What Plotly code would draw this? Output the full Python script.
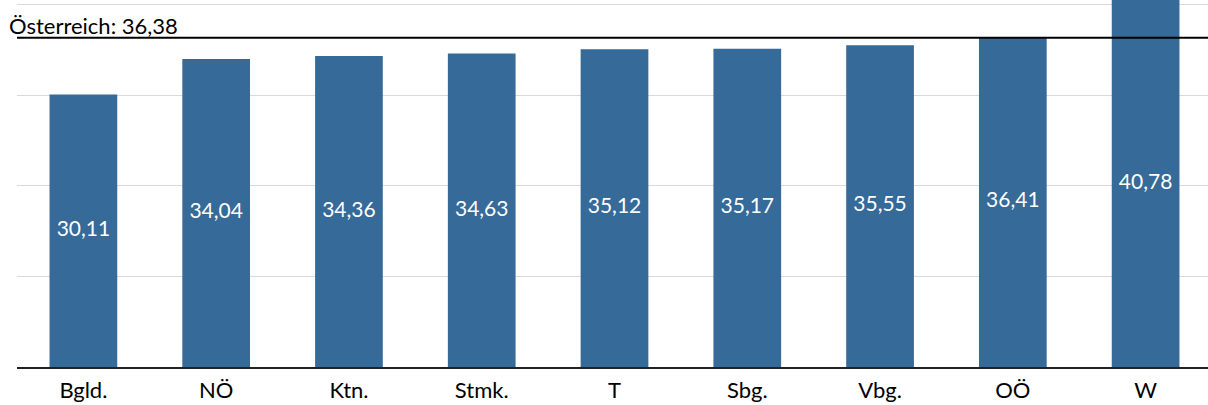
import plotly.graph_objects as go

categories = ["Bgld.", "NÖ", "Ktn.", "Stmk.", "T", "Sbg.", "Vbg.", "OÖ", "W"]
values = [30.11, 34.04, 34.36, 34.63, 35.12, 35.17, 35.55, 36.41, 40.78]
austria_value = 36.38
austria_label = "Österreich: 36,38"
y_max = 40.55

FONT = "Lato"
BAR_COLOR = "#366A98"

def fmt(v):
    return f"{v:.2f}".replace(".", ",")

fig = go.Figure()
fig.add_trace(go.Bar(
    x=categories, y=values, marker=dict(color=BAR_COLOR, line=dict(width=0)),
    hoverinfo="skip", showlegend=False,
))
fig.add_trace(go.Scatter(
    x=categories, y=[min(v, y_max) / 2 for v in values],
    mode="text", text=[fmt(v) for v in values],
    textfont=dict(family=FONT, size=21, color="white"),
    hoverinfo="skip", showlegend=False, cliponaxis=False,
))

fig.add_shape(type="line", xref="paper", yref="y", x0=0, x1=1,
              y0=austria_value, y1=austria_value,
              line=dict(color="black", width=2.2), layer="above")
fig.add_annotation(xref="paper", yref="y", x=0, y=austria_value,
                   xanchor="left", yanchor="bottom", xshift=-10, yshift=-3,
                   text=austria_label, showarrow=False,
                   font=dict(family=FONT, size=22, color="black"))

fig.update_layout(
    width=1212, height=405,
    margin=dict(l=17, r=0, t=0, b=38),
    paper_bgcolor="white", plot_bgcolor="white",
    bargap=0.49,
    font=dict(family=FONT, size=22, color="black"),
)
fig.update_xaxes(showline=True, linecolor="#222222", linewidth=1.5,
                 ticks="", showgrid=False, ticklabelstandoff=3,
                 tickfont=dict(family=FONT, size=22, color="black"))
fig.update_yaxes(range=[0, y_max], dtick=10, showgrid=True, gridcolor="#D9D9D9",
                 gridwidth=1, showticklabels=False, zeroline=False, ticks="")

fig.write_html("out.html", config={"displayModeBar": False},
               post_script="document.body.style.margin='0';document.body.style.overflow='hidden';")
